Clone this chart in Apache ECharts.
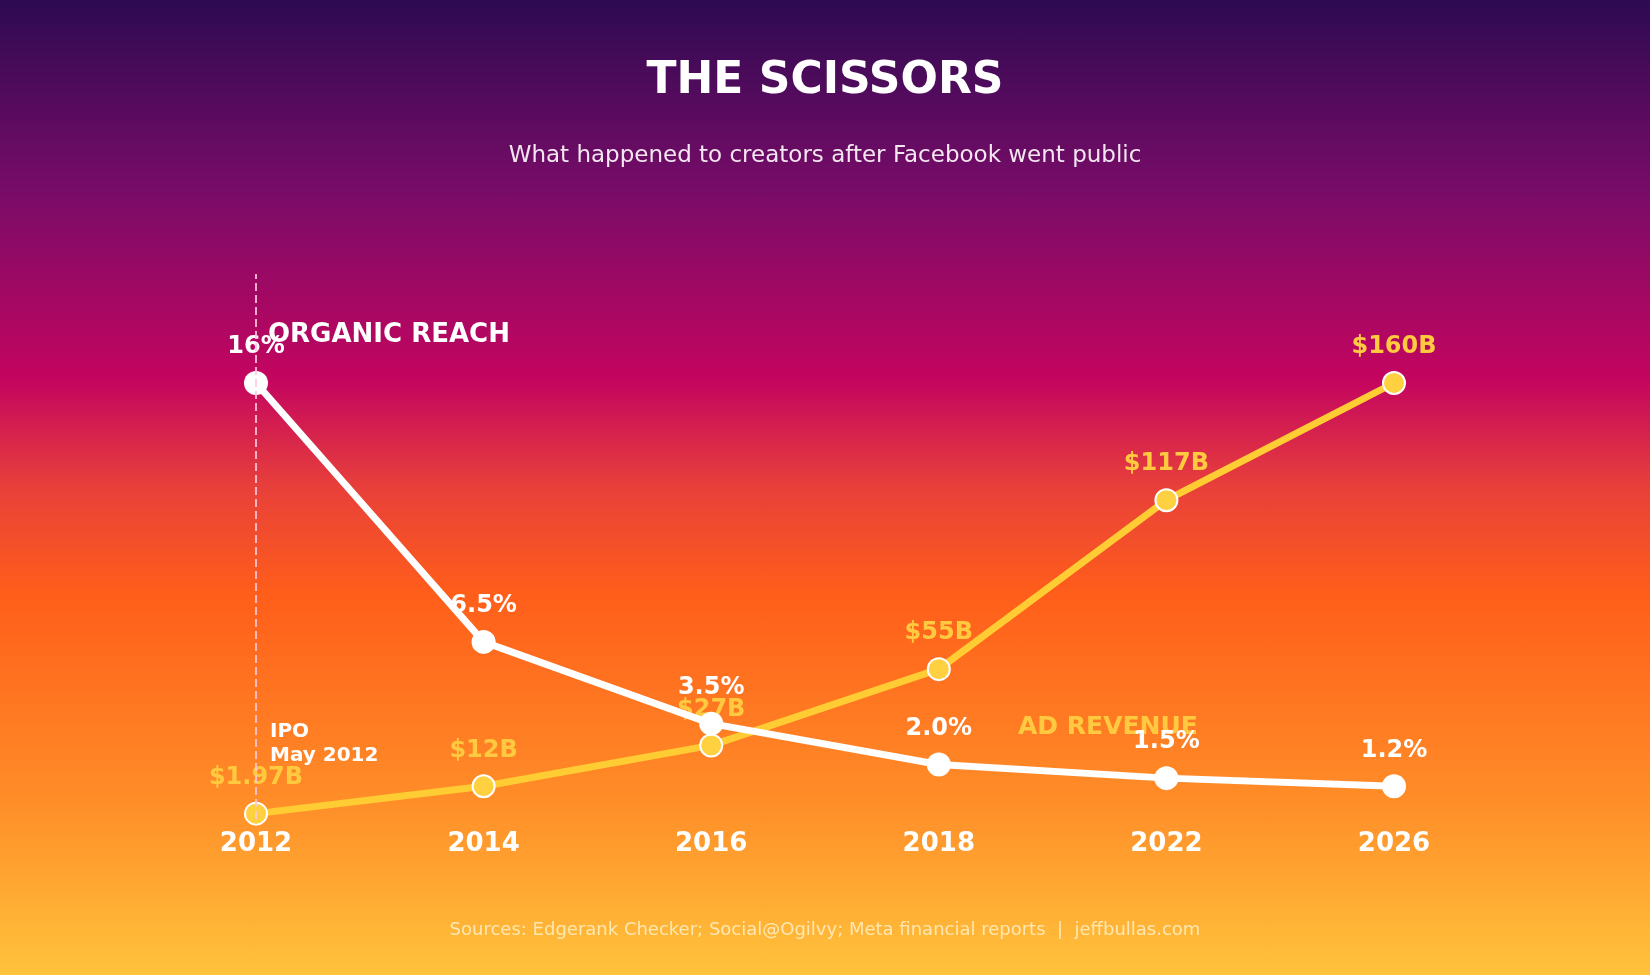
<!DOCTYPE html>
<html><head><meta charset="utf-8">
<script src="https://cdn.jsdelivr.net/npm/echarts@6/dist/echarts.min.js"></script>
<style>html,body{margin:0;padding:0;}#c{width:1650px;height:975px;background:linear-gradient(180deg,#2d0a52 0%,#7a0c68 20%,#c4055f 39%,#e8403a 50%,#ff5e1a 61%,#ff8d28 82%,#ffc33c 100%);}</style>
</head><body><div id="c"></div>
<script>
const years = ['2012','2014','2016','2018','2022','2026'];
const organicReach = [16, 6.5, 3.5, 2.0, 1.5, 1.2];
const organicLabels = ['16%','6.5%','3.5%','2.0%','1.5%','1.2%'];
const adRevenue = [1.97, 12, 27, 55, 117, 160];
const adLabels = ['$1.97B','$12B','$27B','$55B','$117B','$160B'];
const F = 'DejaVu Sans';
const chart = echarts.init(document.getElementById('c'));
chart.setOption({
  textStyle:{fontFamily:F},
  title:[
    {text:'THE SCISSORS',left:'center',top:55,textStyle:{color:'#fff',fontSize:44,fontWeight:'bold',fontFamily:F}},
    {text:'What happened to creators after Facebook went public',left:'center',top:140,textStyle:{color:'#f3e6f0',fontSize:23,fontWeight:'normal',fontFamily:F}},
    {text:'Sources: Edgerank Checker; Social@Ogilvy; Meta financial reports  |  jeffbullas.com',left:'center',top:916,textStyle:{color:'rgba(255,240,200,0.85)',fontSize:18,fontWeight:'normal',fontFamily:F}}
  ],
  grid:{left:256,right:256,top:274,bottom:156},
  xAxis:{type:'category',data:years,boundaryGap:false,axisLine:{show:false},axisTick:{show:false},splitLine:{show:false},
    axisLabel:{color:'#fff',fontSize:26,fontWeight:'bold',margin:12,fontFamily:F}},
  yAxis:[{type:'value',min:0,max:20,show:false,splitLine:{show:false}},{type:'value',min:0,max:200,show:false,splitLine:{show:false}}],
  graphic:[
    {type:'text',left:268,top:322,style:{text:'ORGANIC REACH',fill:'#fff',font:'bold 26px DejaVu Sans'}},
    {type:'text',left:1018,top:715,style:{text:'AD REVENUE',fill:'#ffc940',font:'bold 25px DejaVu Sans'}},
    {type:'text',left:270,top:720,style:{text:'IPO\nMay 2012',fill:'#fff',font:'bold 20px DejaVu Sans',lineHeight:24}}
  ],
  series:[
    {name:'Ad revenue',type:'line',yAxisIndex:1,data:adRevenue,symbol:'circle',symbolSize:22,z:2,
      lineStyle:{color:'#ffcc33',width:7},itemStyle:{color:'#ffd040',borderColor:'#fff',borderWidth:2},
      label:{show:true,position:'top',distance:12,color:'#ffc940',fontSize:24,fontWeight:'bold',fontFamily:F,formatter:p=>adLabels[p.dataIndex]},
      markLine:{symbol:'none',silent:true,label:{show:false},lineStyle:{color:'rgba(255,200,220,0.85)',type:'dashed',width:2},data:[{xAxis:'2012'}]}},
    {name:'Organic reach',type:'line',yAxisIndex:0,data:organicReach,symbol:'circle',symbolSize:24,z:3,
      lineStyle:{color:'#fff',width:7},itemStyle:{color:'#fff'},
      label:{show:true,position:'top',distance:12,color:'#fff',fontSize:24,fontWeight:'bold',fontFamily:F,formatter:p=>organicLabels[p.dataIndex]}}
  ]
});
</script></body></html>
